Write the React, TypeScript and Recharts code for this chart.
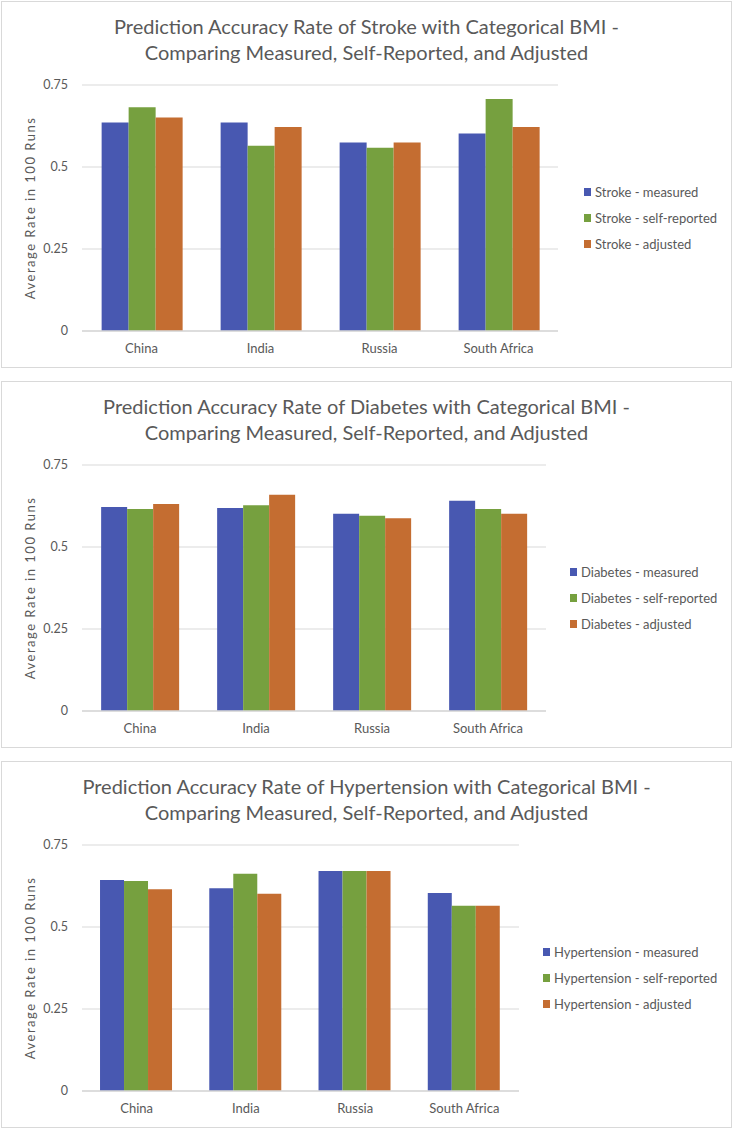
import React from 'react'
import { BarChart, Bar, XAxis, YAxis, CartesianGrid } from 'recharts'

const countries = ['China', 'India', 'Russia', 'South Africa']
const yTicks = [0, 0.25, 0.5, 0.75]

const strokeMeasured = [0.636, 0.636, 0.575, 0.602]
const strokeSelfReported = [0.682, 0.565, 0.559, 0.707]
const strokeAdjusted = [0.651, 0.622, 0.575, 0.622]

const diabetesMeasured = [0.622, 0.619, 0.601, 0.641]
const diabetesSelfReported = [0.616, 0.627, 0.595, 0.616]
const diabetesAdjusted = [0.631, 0.659, 0.588, 0.601]

const hyperMeasured = [0.643, 0.618, 0.671, 0.604]
const hyperSelfReported = [0.640, 0.662, 0.671, 0.565]
const hyperAdjusted = [0.615, 0.601, 0.671, 0.565]

const BLUE = '#4858b1'
const GREEN = '#76a03f'
const ORANGE = '#c46d31'
const TEXT = '#595959'
const GRID = '#d9d9d9'
const FONT = 'Lato, "Open Sans", sans-serif'

interface PanelProps {
  top: number
  disease: string
  measured: number[]
  selfReported: number[]
  adjusted: number[]
  rightMargin: number
  legendLeft: number
}

function Panel({ top, disease, measured, selfReported, adjusted, rightMargin, legendLeft }: PanelProps) {
  const data = countries.map((c, i) => ({
    country: c,
    m: measured[i],
    s: selfReported[i],
    a: adjusted[i],
  }))
  const items = [
    { name: `${disease} - measured`, color: BLUE },
    { name: `${disease} - self-reported`, color: GREEN },
    { name: `${disease} - adjusted`, color: ORANGE },
  ]

  return (
    <div
      style={{
        position: 'absolute',
        left: 1,
        top,
        width: 731,
        height: 367,
        border: `1px solid ${GRID}`,
        boxSizing: 'border-box',
        background: '#fff',
        fontFamily: FONT,
      }}
    >
      <div
        style={{
          position: 'absolute',
          left: 0,
          top: 11,
          width: 729,
          textAlign: 'center',
          color: TEXT,
          fontSize: 20,
          lineHeight: '26px',
        }}
      >
        <div>Prediction Accuracy Rate of {disease} with Categorical BMI -</div>
        <div>Comparing Measured, Self-Reported, and Adjusted</div>
      </div>
      <BarChart
        width={729}
        height={365}
        data={data}
        margin={{ top: 83, right: rightMargin, bottom: 6, left: 0 }}
        barCategoryGap="16.5%"
        barGap={0}
      >
        <CartesianGrid vertical={false} stroke={GRID} strokeWidth={1} />
        <XAxis
          dataKey="country"
          axisLine={{ stroke: GRID, strokeWidth: 1.5 }}
          tickLine={false}
          height={30}
          tickMargin={7}
          tick={{ fontSize: 13, fill: TEXT, fontFamily: FONT }}
        />
        <YAxis
          domain={[0, 0.75]}
          ticks={yTicks}
          width={80}
          axisLine={false}
          tickLine={false}
          tickMargin={8}
          tick={{ fontSize: 12.5, fill: TEXT, fontFamily: FONT }}
          label={{
            value: 'Average Rate in 100 Runs',
            angle: -90,
            position: 'insideLeft',
            offset: 28,
            style: { fontSize: 13, fill: TEXT, fontFamily: FONT, letterSpacing: 1.5, textAnchor: 'middle' },
          }}
        />
        <Bar dataKey="m" name={items[0].name} fill={BLUE} isAnimationActive={false} />
        <Bar dataKey="s" name={items[1].name} fill={GREEN} isAnimationActive={false} />
        <Bar dataKey="a" name={items[2].name} fill={ORANGE} isAnimationActive={false} />
      </BarChart>
      <div style={{ position: 'absolute', left: legendLeft, top: 177 }}>
        {items.map(it => (
          <div
            key={it.name}
            style={{ display: 'flex', alignItems: 'center', height: 26, fontSize: 13, color: TEXT, whiteSpace: 'nowrap' }}
          >
            <span style={{ display: 'inline-block', width: 7, height: 8, background: it.color, marginRight: 4 }} />
            <span>{it.name}</span>
          </div>
        ))}
      </div>
    </div>
  )
}

export default function App() {
  return (
    <div style={{ position: 'relative', width: 733, height: 1131, background: '#fff' }}>
      <style>{'body{margin:0;background:#fff}'}</style>
      <Panel
        top={1}
        disease="Stroke"
        measured={strokeMeasured}
        selfReported={strokeSelfReported}
        adjusted={strokeAdjusted}
        rightMargin={173}
        legendLeft={582}
      />
      <Panel
        top={381}
        disease="Diabetes"
        measured={diabetesMeasured}
        selfReported={diabetesSelfReported}
        adjusted={diabetesAdjusted}
        rightMargin={185}
        legendLeft={568}
      />
      <Panel
        top={761}
        disease="Hypertension"
        measured={hyperMeasured}
        selfReported={hyperSelfReported}
        adjusted={hyperAdjusted}
        rightMargin={212}
        legendLeft={541}
      />
    </div>
  )
}
